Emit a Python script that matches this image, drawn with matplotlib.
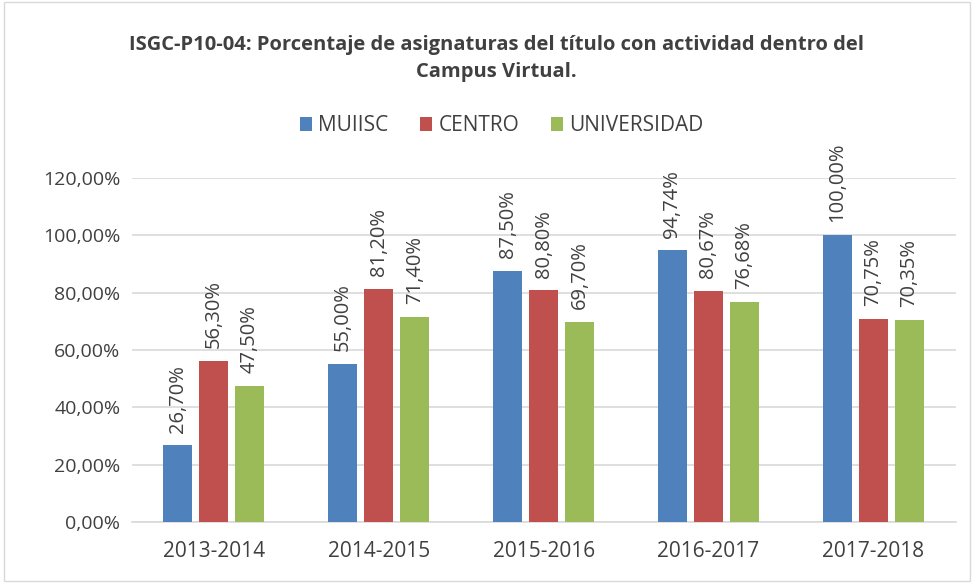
import matplotlib.pyplot as plt
import numpy as np
from matplotlib.patches import Rectangle
from matplotlib.ticker import FuncFormatter

# data
years = ["2013-2014", "2014-2015", "2015-2016", "2016-2017", "2017-2018"]
muiisc = [26.70, 55.00, 87.50, 94.74, 100.00]
centro = [56.30, 81.20, 80.80, 80.67, 70.75]
universidad = [47.50, 71.40, 69.70, 76.68, 70.35]

series = [("MUIISC", muiisc, "#4F81BD"),
          ("CENTRO", centro, "#C0504D"),
          ("UNIVERSIDAD", universidad, "#9BBB59")]

plt.rcParams["font.family"] = ["Open Sans", "DejaVu Sans"]
txt = "#404040"

fig = plt.figure(figsize=(9.74, 5.83), dpi=100)
ax = fig.add_axes([0.1351, 0.1046, 0.846, 0.590])

x = np.arange(len(years))
w = 0.176
off = 0.2185

for i, (name, vals, col) in enumerate(series):
    pos = x + (i - 1) * off
    ax.bar(pos, vals, width=w, color=col, label=name, zorder=3)
    for p, v in zip(pos, vals):
        ax.text(p, v + 4.5, f"{v:.2f}%".replace(".", ","), rotation=90,
                ha="center", va="bottom", fontsize=14.5, color=txt,
                clip_on=False)

ax.set_xlim(-0.5, len(years) - 0.5)
ax.set_ylim(0, 120)
ax.set_yticks(np.arange(0, 121, 20))
ax.yaxis.set_major_formatter(FuncFormatter(lambda v, p: f"{v:.2f}%".replace(".", ",")))
ax.set_xticks(x)
ax.set_xticklabels(years)
ax.tick_params(axis="both", length=0, labelcolor=txt)
ax.tick_params(axis="x", pad=14, labelsize=15)
ax.tick_params(axis="y", pad=8, labelsize=14)
ax.grid(axis="y", color="#d9d9d9", linewidth=1.2, zorder=0)
for s in ["top", "right", "left"]:
    ax.spines[s].set_visible(False)
ax.spines["bottom"].set_color("#d9d9d9")
ax.spines["bottom"].set_linewidth(1.2)

fig.text(0.51, 0.900, "ISGC-P10-04: Porcentaje de asignaturas del título con actividad dentro del\nCampus Virtual.",
         ha="center", va="center", fontsize=14.5, fontweight="bold", color=txt,
         linespacing=1.5)

fig.legend(loc="center", bbox_to_anchor=(0.515, 0.784), ncol=3, frameon=False,
           fontsize=15, labelcolor=txt, handlelength=0.6, handleheight=0.6,
           handletextpad=0.3, columnspacing=1.5)

fig.patches.append(Rectangle((0.004, 0.004), 0.992, 0.992, transform=fig.transFigure,
                             fill=False, edgecolor="#d9d9d9", linewidth=1))

fig.savefig("out.png", dpi=100)
